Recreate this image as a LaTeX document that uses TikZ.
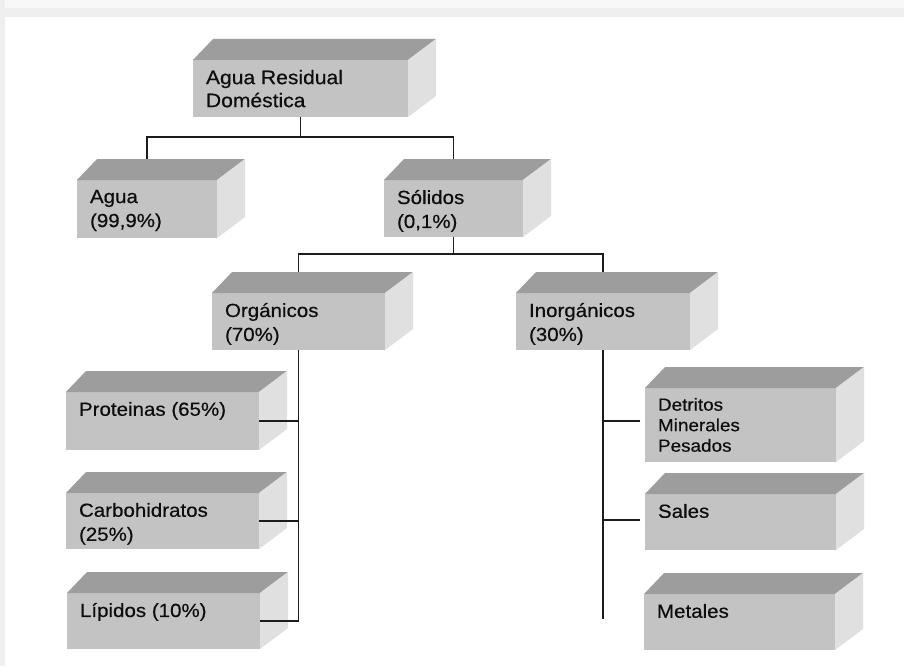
\documentclass[tikz,border=0pt]{standalone}
\usepackage{fontspec}
\setmainfont{Liberation Sans}
\newfontfamily\labfont[FakeStretch=1.08, FakeBold=0.5]{Liberation Sans}
\usetikzlibrary{calc}

\definecolor{facefront}{HTML}{C3C3C3}
\definecolor{facetop}{HTML}{9D9D9D}
\definecolor{faceside}{HTML}{E0E0E0}
\definecolor{wire}{HTML}{1C1C1C}
\definecolor{framelight}{HTML}{F8F8F8}
\definecolor{framemid}{HTML}{EFEFEF}

\tikzset{
  front/.style={fill=facefront, draw=none, inner sep=0pt, outer sep=0pt, anchor=north west},
  lbl/.style={inner sep=0pt, outer sep=0pt, align=left, anchor=north west, text=black!95,
              font=\labfont\fontsize{19}{24}\selectfont},
  biglbl/.style={lbl, font=\labfont\fontsize{19.5}{23}\selectfont},
  smalllbl/.style={lbl, font=\labfont\fontsize{17.5}{20.5}\selectfont},
  wire/.style={draw=wire, line width=1.7pt},
}

% #1 name, #2 x, #3 y, #4 width, #5 height, #6 label style, #7 text
\newcommand\cuboid[7]{%
  \node[front, minimum width=#4pt, minimum height=#5pt] (#1) at (#2,#3) {};
  \fill[facetop] (#1.north west) -- ([shift={(20pt,21pt)}]#1.north west)
     -- ([shift={(28pt,21pt)}]#1.north east) -- (#1.north east) -- cycle;
  \fill[faceside] (#1.north east) -- ([shift={(28pt,21pt)}]#1.north east)
     -- ([shift={(28pt,21pt)}]#1.south east) -- (#1.south east) -- cycle;
  \node[#6] (#1-t) at ([shift={(13pt,-10pt)}]#1.north west) {#7};
  \coordinate (#1-top) at ([yshift=21pt]#1.north);
}

\begin{document}
\begin{tikzpicture}[x=1pt, y=-1pt]
  \useasboundingbox (0,0) rectangle (904,666);
  % page background with its soft grey border strips
  \fill[white] (0,0) rectangle (904,666);
  \fill[framemid] (0,0) rectangle (904,17);
  \fill[framelight] (0,0) rectangle (904,8);
  \fill[framemid] (0,0) rectangle (5,666);

  % boxes
  \cuboid{top}{193}{60}{215}{57}{biglbl}{Agua Residual\\Doméstica}
  \cuboid{agua}{77}{180}{140}{58}{lbl}{Agua\\(99,9\%)}
  \cuboid{sol}{384}{180}{139}{57}{lbl}{Sólidos\\(0,1\%)}
  \cuboid{org}{212}{293}{173}{57}{lbl}{Orgánicos\\(70\%)}
  \cuboid{inorg}{516}{293}{174}{57}{lbl}{Inorgánicos\\(30\%)}
  \cuboid{prot}{66}{392}{193}{58}{lbl}{Proteinas (65\%)}
  \cuboid{carb}{66}{493}{193}{56}{lbl}{Carbohidratos\\(25\%)}
  \cuboid{lip}{67}{593}{193}{56}{lbl}{Lípidos (10\%)}
  \cuboid{det}{645}{388}{191}{74}{smalllbl}{Detritos\\Minerales\\Pesados}
  \cuboid{sales}{645}{494}{191}{56}{lbl}{Sales}
  \cuboid{metal}{644}{594}{191}{56}{lbl}{Metales}

  % first split
  \coordinate (bus1) at (300,137);
  \draw[wire] (top.south) -- (top.south |- bus1);
  \draw[wire] (agua-top) |- (bus1) -| (sol-top);

  % second split
  \coordinate (bus2) at (452,254);
  \draw[wire] (sol.south) -- (sol.south |- bus2);
  \draw[wire] (org-top) |- (bus2) -| (inorg-top);

  % organic branch
  \draw[wire] (org.south) -- (org.south |- lip.east);
  \draw[wire] (prot.east) -- (prot.east -| org.south);
  \draw[wire] (carb.east) -- (carb.east -| org.south);
  \draw[wire] (lip.east) -- (lip.east -| org.south);

  % inorganic branch
  \coordinate (detin) at ([shift={(-5pt,4pt)}]det.west);
  \coordinate (salin) at ([shift={(-5pt,2pt)}]sales.west);
  \draw[wire] (inorg.south) -- ([yshift=3pt]inorg.south |- metal.west);
  \draw[wire] (detin) -- (detin -| inorg.south);
  \draw[wire] (salin) -- (salin -| inorg.south);
\end{tikzpicture}
\end{document}
